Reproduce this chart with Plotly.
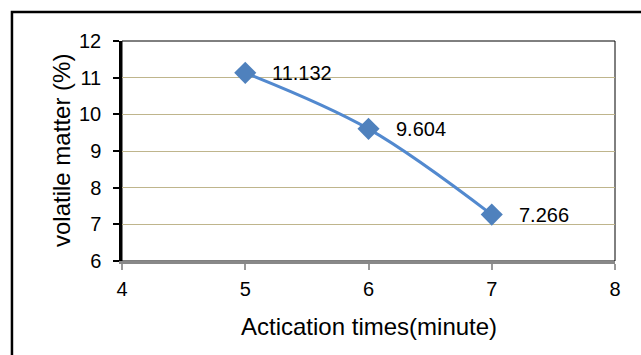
import plotly.graph_objects as go

# Activation time (minutes) vs. volatile matter content (%)
times = [5, 6, 7]
volatile = [11.132, 9.604, 7.266]
x_ticks = [4, 5, 6, 7, 8]
y_ticks = [6, 7, 8, 9, 10, 11, 12]

FONT = "Liberation Sans, Arial, sans-serif"
BLUE = "#4F81BD"

fig = go.Figure()
fig.add_trace(go.Scatter(
    x=times, y=volatile,
    mode="lines+markers",
    line=dict(color="#5289CF", width=3, shape="spline", smoothing=1),
    marker=dict(symbol="diamond", size=17, color=BLUE),
    showlegend=False,
    hoverinfo="skip",
))

# value labels to the right of each point
for xv, yv in zip(times, volatile):
    fig.add_annotation(
        x=xv, y=yv, text=f"{yv:.3f}", showarrow=False,
        xanchor="left", yanchor="middle", xshift=25,
        font=dict(family=FONT, size=20, color="#000000"),
    )

# axis titles
fig.add_annotation(
    xref="paper", yref="paper", x=0, y=0.5, xshift=-61,
    text="volatile matter (%)", textangle=-90, showarrow=False,
    xanchor="center", yanchor="middle",
    font=dict(family=FONT, size=24, color="#000000"),
)
fig.add_annotation(
    xref="paper", yref="paper", x=0.5, y=0, yshift=-65,
    text="Actication times(minute)", showarrow=False,
    xanchor="center", yanchor="middle",
    font=dict(family=FONT, size=24, color="#000000"),
)

# outer chart frame (extends past the right/bottom edges)
fig.add_shape(type="rect", xref="paper", yref="paper",
              x0=-0.2232, x1=1.3, y0=-0.6, y1=1.1318,
              line=dict(color="#000000", width=2.5), layer="above")
# plot-area frame (top and right)
fig.add_shape(type="rect", xref="paper", yref="paper",
              x0=0, x1=1, y0=0, y1=1,
              line=dict(color="#000000", width=1), layer="below")

fig.update_layout(
    width=641, height=355,
    margin=dict(l=122, r=26, t=41, b=94),
    paper_bgcolor="#FFFFFF", plot_bgcolor="#FFFFFF",
    font=dict(family=FONT, color="#000000"),
    xaxis=dict(
        range=[4, 8], tickvals=x_ticks, ticktext=[str(v) for v in x_ticks],
        showgrid=False, zeroline=False,
        showline=True, linecolor="#888888", linewidth=2.5,
        ticks="outside", ticklen=6, tickwidth=1.5, tickcolor="#999999",
        tickfont=dict(size=20, family=FONT), ticklabelstandoff=2,
    ),
    yaxis=dict(
        range=[6, 12], tickvals=y_ticks, ticktext=[str(v) for v in y_ticks],
        showgrid=True, gridcolor="#BFB58C", gridwidth=1.4, zeroline=False,
        showline=True, linecolor="#000000", linewidth=2.5,
        ticks="outside", ticklen=6, tickwidth=1.5, tickcolor="#000000",
        tickfont=dict(size=20, family=FONT), ticklabelstandoff=8,
    ),
)

fig.write_html("out.html")
